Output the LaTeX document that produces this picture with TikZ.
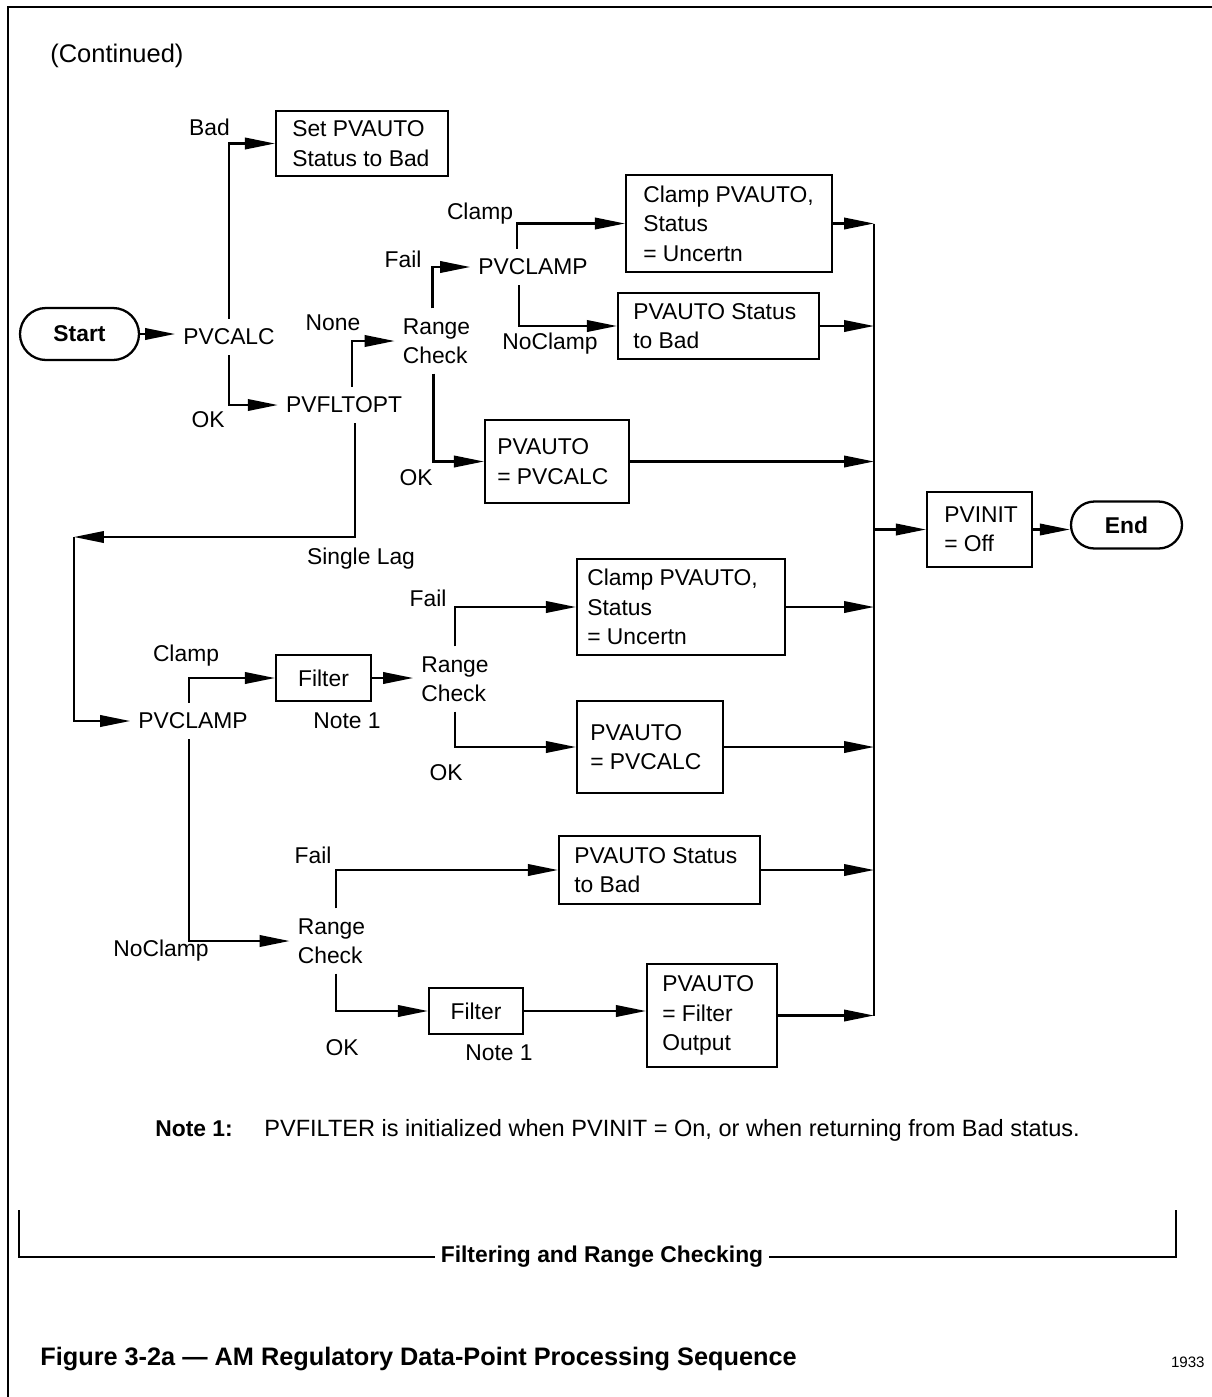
\documentclass[tikz,border=0pt]{standalone}
\usepackage{fontspec}
\setmainfont{Liberation Sans}
\usetikzlibrary{arrows.meta,calc,shapes.misc}

\begin{document}
\begin{tikzpicture}[x=0.02cm,y=-0.02cm,
  every node/.style={inner sep=0pt, font=\fontsize{13}{16.7}\selectfont},
  sz/.style 2 args={minimum width=#1*0.02cm, minimum height=#2*0.02cm},
  flow/.style={line width=1.2pt},
  arr/.style={flow, -{Triangle[length=0.6cm,width=0.23cm]}},
  procbox/.style={draw, line width=1.2pt, rectangle},
  term/.style={draw, line width=1.3pt, rounded rectangle, font=\fontsize{13}{16}\selectfont\bfseries},
  txt/.style={align=left, anchor=west},
  dec/.style={align=left, inner xsep=4.5pt, inner ysep=5.5pt},
  lbl/.style={anchor=base},
]
\useasboundingbox (0,0) rectangle (1212,1397);

% page frame
\draw[line width=1.6pt] (8,1400) -- (8,7) -- (1215,7);

\node[anchor=base west, font=\fontsize{14.5}{17}\selectfont] (cont) at (50,62) {(Continued)};

% terminals
\node[term, sz={119}{52}] (start) at (79.5,334) {Start};
\node[term, sz={111}{47}] (end) at (1126.5,525) {End};

% decision texts
\node[dec] (pvcalc) at (229,337) {PVCALC};
\node[dec] (pvfltopt) at (344,405) {PVFLTOPT};
\node[dec] (rc1) at (436.5,341) {Range\\Check};
\node[dec] (pvclamp1) at (533,267) {PVCLAMP};
\node[dec] (pvclamp2) at (193,721) {PVCLAMP};
\node[dec] (rc2) at (455,679) {Range\\Check};
\node[dec] (rc3) at (331.5,941) {Range\\Check};

% process boxes
\node[procbox, sz={172}{65}] (setbad) at (362,143.5) {};
\node[txt] (setbad-t) at ($(setbad.west)+(17,0)$) {Set PVAUTO\\Status to Bad};

\node[procbox, sz={206}{97}] (clampbox1) at (729,223.5) {};
\node[txt] (clampbox1-t) at ($(clampbox1.west)+(18,0)$) {Clamp PVAUTO,\\Status\\= Uncertn};

\node[procbox, sz={201}{66}] (badbox1) at (718.5,326) {};
\node[txt] (badbox1-t) at ($(badbox1.west)+(16,0)$) {PVAUTO Status\\to Bad};

\node[procbox, sz={144}{83}] (calcbox1) at (557,461.5) {};
\node[txt] (calcbox1-t) at ($(calcbox1.west)+(13,0)$) {PVAUTO\\= PVCALC};

\node[procbox, sz={95}{46}] (filter1) at (323.5,678) {Filter};

\node[procbox, sz={208}{96}] (clampbox2) at (681,607) {};
\node[txt] (clampbox2-t) at ($(clampbox2.west)+(11,0)$) {Clamp PVAUTO,\\Status\\= Uncertn};

\node[procbox, sz={146}{92}] (calcbox2) at (650,747) {};
\node[txt] (calcbox2-t) at ($(calcbox2.west)+(14,0)$) {PVAUTO\\= PVCALC};

\node[procbox, sz={201}{68}] (badbox2) at (659.5,870) {};
\node[txt] (badbox2-t) at ($(badbox2.west)+(16,0)$) {PVAUTO Status\\to Bad};

\node[procbox, sz={94}{46}] (filter2) at (476,1011) {Filter};

\node[procbox, sz={130}{103}] (outbox) at (712,1015.5) {};
\node[txt] (outbox-t) at ($(outbox.west)+(16,0)$) {PVAUTO\\= Filter\\Output};

\node[procbox, sz={105}{75}] (pvinit) at (979.5,529.5) {};
\node[txt] (pvinit-t) at ($(pvinit.west)+(18,0)$) {PVINIT\\= Off};

% branch labels
\node[lbl] (l-bad) at (209.5,135) {Bad};
\node[lbl] (l-ok1) at (208,427) {OK};
\node[lbl] (l-none) at (333,330) {None};
\node[lbl] (l-fail1) at (403,267) {Fail};
\node[lbl] (l-clamp1) at (480,219) {Clamp};
\node[lbl] (l-noclamp1) at (550,349) {NoClamp};
\node[lbl] (l-ok2) at (416,485) {OK};
\node[lbl] (l-lag) at (361,564) {Single Lag};
\node[lbl] (l-clamp2) at (186,661) {Clamp};
\node[lbl] (l-note1a) at (347,728) {Note 1};
\node[lbl] (l-fail2) at (428,606) {Fail};
\node[lbl] (l-ok3) at (446,780) {OK};
\node[lbl] (l-fail3) at (313,863) {Fail};
\node[lbl] (l-noclamp2) at (161,956) {NoClamp};
\node[lbl] (l-ok4) at (342,1055) {OK};
\node[lbl] (l-note1b) at (499,1060) {Note 1};

% connectors
\draw[arr] (start.east) -- (start.east -| pvcalc.west);
\draw[arr] (pvcalc.north) |- (setbad.west);
\draw[arr] (pvcalc.south) |- (pvfltopt.west);
\draw[arr] ($(pvfltopt.north)+(8,0)$) |- (rc1.west);
\draw[arr] ($(rc1.north)+(-4,0)$) |- (pvclamp1.west);
\draw[arr] ($(pvclamp1.north)+(-16,0)$) |- (clampbox1.west);
\draw[arr] ($(pvclamp1.south)+(-14,0)$) |- (badbox1.west);
\draw[arr] ($(rc1.south)+(-3,0)$) |- (calcbox1.west);

\coordinate (lag) at (74,537);
\draw[arr] ($(pvfltopt.south)+(11,0)$) |- (lag);
\draw[arr] (lag) |- (pvclamp2.west);
\draw[arr] ($(pvclamp2.north)+(-4,0)$) |- (filter1.west);
\draw[arr] (filter1.east) -- (filter1.east -| rc2.west);
\draw[arr] (rc2.north) |- (clampbox2.west);
\draw[arr] (rc2.south) |- (calcbox2.west);
\draw[arr] ($(pvclamp2.south)+(-4,0)$) |- (rc3.west);
\draw[arr] ($(rc3.north)+(4.5,0)$) |- (badbox2.west);
\draw[arr] ($(rc3.south)+(4.5,0)$) |- (filter2.west);
\draw[arr] (filter2.east) -- (filter2.east -| outbox.west);

% collector bus
\coordinate (cx) at (874,0);
\draw[flow] (clampbox1.east -| cx) -- (outbox.east -| cx);
\foreach \b in {clampbox1,badbox1,calcbox1,clampbox2,calcbox2,badbox2,outbox}
  \draw[arr] (\b.east) -- (\b.east -| cx);
\draw[arr] (pvinit.west -| cx) -- (pvinit.west);
\draw[arr] (pvinit.east) -- (pvinit.east -| end.west);

% note
\node[anchor=base west, font=\fontsize{13}{16}\selectfont\bfseries] (note-h) at (155,1136) {Note 1:};
\node[anchor=base west, font=\fontsize{13.4}{16}\selectfont] (note-t) at (264,1136) {PVFILTER is initialized when PVINIT = On, or when returning from Bad status.};

% section bracket
\node[font=\fontsize{13}{16}\selectfont\bfseries, inner xsep=3pt] (frc) at (602,1257) {Filtering and Range Checking};
\coordinate (bl) at (19,1210);
\coordinate (br) at (1176,1210);
\draw[line width=0.9pt] (bl) |- (frc.west);
\draw[line width=0.9pt] (br) |- (frc.east);

% caption
\node[anchor=base west, font=\fontsize{14.4}{17}\selectfont\bfseries] (cap) at (40,1365) {Figure 3-2a — AM Regulatory Data-Point Processing Sequence};
\node[anchor=base east, font=\fontsize{8.6}{10}\selectfont] (fignum) at (1205,1367) {1933};
\end{tikzpicture}
\end{document}
